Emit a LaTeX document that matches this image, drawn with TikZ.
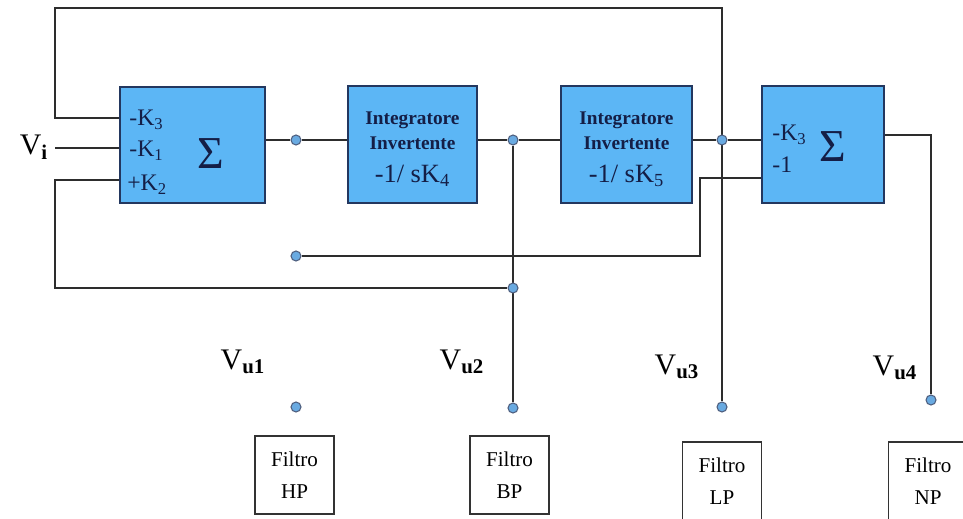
\documentclass[tikz,border=0pt]{standalone}
\usepackage{fontspec}
\setmainfont{Liberation Serif}
\usetikzlibrary{positioning, backgrounds, calc}

\definecolor{boxblue}{RGB}{92,182,245}
\definecolor{boxline}{RGB}{35,55,95}
\definecolor{inkblue}{RGB}{20,30,70}
\definecolor{dotblue}{RGB}{105,170,225}
\definecolor{wiregray}{RGB}{45,45,45}

\tikzset{
  blockbox/.style={draw=boxline, fill=boxblue, line width=1.1pt, inner sep=0pt, text=inkblue, align=center},
  filterbox/.style={draw=black!80, line width=0.9pt, minimum width=1.58cm, minimum height=1.56cm,
    align=center, font=\fontsize{12}{18}\selectfont},
  joint/.style={circle, draw=boxline!80, fill=dotblue, line width=0.6pt, inner sep=0pt, minimum size=0.2cm},
  wire/.style={draw=wiregray, line width=0.9pt},
  vlabel/.style={font=\fontsize{17}{20}\selectfont, inner sep=0pt},
  klabel/.style={font=\fontsize{13.5}{15}\selectfont, text=inkblue, inner sep=0pt, anchor=west},
  sigma/.style={font=\fontsize{26}{28}\selectfont, text=inkblue, inner sep=0pt}
}

\newcommand{\integtext}[1]{%
  {\rule{0pt}{12.5pt}\bfseries\fontsize{11}{13.5}\selectfont Integratore}\\[2pt]
  {\bfseries\fontsize{11}{13.5}\selectfont Invertente}\\[7pt]
  {\fontsize{15}{17}\selectfont -1/ sK\textsubscript{#1}}}

\begin{document}
\begin{tikzpicture}[x=0.02cm, y=-0.02cm]
\path[use as bounding box] (0,0) rectangle (963,519);

% blocchi
\node[blockbox, minimum width=2.9cm, minimum height=2.32cm] (sumA) at (192.5,145) {};
\node[blockbox, minimum width=2.58cm, minimum height=2.34cm] (intA) at (412.5,144.5) {\integtext{4}};
\node[blockbox, minimum width=2.62cm, minimum height=2.34cm] (intB) at (626.5,144.5) {\integtext{5}};
\node[blockbox, minimum width=2.44cm, minimum height=2.34cm] (sumB) at (823,144.5) {};

\node[klabel] (kAthree) at (129,120) {-K\textsubscript{3}};
\node[klabel] (kAone) at (129,151) {-K\textsubscript{1}};
\node[klabel] (kAtwo) at (127,185) {+K\textsubscript{2}};
\node[sigma] (sigA) at (211,154) {Σ};
\node[klabel] (kBthree) at (772,135) {-K\textsubscript{3}};
\node[klabel] (kBone) at (772,165) {-1};
\node[sigma] (sigB) at (833,147) {Σ};

% nodi di uscita
\node[joint] (dA) at (296,140) {};
\node[joint] (dB) at (513,140) {};
\node[joint] (dC) at (722,140) {};
\node[joint] (dD) at (296,256) {};
\node[joint] (dE) at (513,288) {};
\node[joint] (dHP) at (296,407) {};
\node[joint] (dBP) at (513,408) {};
\node[joint] (dLP) at (722,407) {};
\node[joint] (dNP) at (931,400) {};

\coordinate (inKthree) at (120,118);
\coordinate (inKone) at (120,148);
\coordinate (inKtwo) at (120,180);
\coordinate (topL) at (55,8);
\coordinate (viEnd) at (55,148);
\coordinate (botL) at (55,288);
\coordinate (kink) at (700,178);
\coordinate (outB) at (884,135);

% collegamenti
\begin{scope}[on background layer]
\fill[white] (0,0) rectangle (963,519);
\draw[wire] (inKthree) -| (topL) -| (dLP);
\draw[wire] (viEnd) -- (inKone);
\draw[wire] (inKtwo) -| (botL) -- (dE);
\draw[wire] (sumA.east |- dA) -- (dA) -- (intA.west |- dA);
\draw[wire] (intA.east |- dB) -- (dB) -- (intB.west |- dB);
\draw[wire] (intB.east |- dC) -- (dC) -- (sumB.west |- dC);
\draw[wire] (dB) -- (dBP);
\draw[wire] (dD) -| (kink) -- (kink -| sumB.west);
\draw[wire] (outB) -| (dNP);
\end{scope}

% etichette
\node[vlabel] (vi) at (34,147) {V\textsubscript{\textbf{i}}};
\node[vlabel] (vuA) at (243,362) {V\textsubscript{\textbf{u1}}};
\node[vlabel] (vuB) at (462,362) {V\textsubscript{\textbf{u2}}};
\node[vlabel] (vuC) at (677,367) {V\textsubscript{\textbf{u3}}};
\node[vlabel] (vuD) at (895,368) {V\textsubscript{\textbf{u4}}};

% filtri
\node[filterbox] (fHP) at (294.5,475) {Filtro\\HP};
\node[filterbox] (fBP) at (509.5,475) {Filtro\\BP};
\node[filterbox] (fLP) at (722,481) {Filtro\\LP};
\node[filterbox] (fNP) at (928,481) {Filtro\\NP};
\end{tikzpicture}
\end{document}
